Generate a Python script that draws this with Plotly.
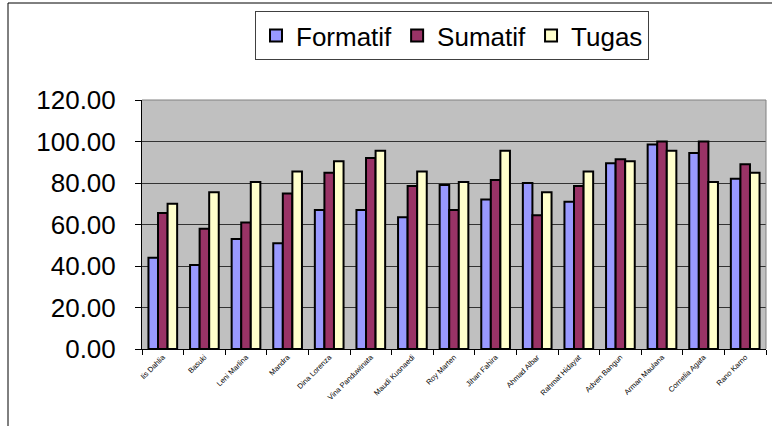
import plotly.graph_objects as go

names = ["Iis Dahlia", "Basuki", "Leni Marlina", "Mandra", "Dina Lorenza",
         "Vina Panduwinata", "Maudi Kusnaedi", "Roy Marten", "Jihan Fahira",
         "Ahmad Albar", "Rahmat Hidayat", "Adven Bangun", "Arman Maulana",
         "Cornelia Agata", "Rano Karno"]
formatif = [44, 40.5, 53, 51, 67, 67, 63.5, 79, 72, 80, 71, 89.5, 98.5, 94.5, 82]
sumatif = [65.5, 58, 61, 75, 85, 92, 78.5, 67, 81.5, 64.5, 78.5, 91.5, 100, 100, 89]
tugas = [70, 75.5, 80.5, 85.5, 90.5, 95.5, 85.5, 80.5, 95.5, 75.5, 85.5, 90.5, 95.5, 80.5, 85]
y_ticks = [0, 20, 40, 60, 80, 100, 120]

series = [("Formatif", formatif, "#9999FF"),
          ("Sumatif", sumatif, "#993366"),
          ("Tugas", tugas, "#FFFFCC")]

fig = go.Figure()
for nm, vals, col in series:
    fig.add_trace(go.Bar(x=names, y=vals, name=nm,
                         marker=dict(color=col, line=dict(color="black", width=2))))

W, H = 772, 426
L, R, T, B = 142, 6, 100, 77
pw, ph = W - L - R, H - T - B

def px2x(px):
    return (px - L) / pw

def py2y(py):
    return (H - B - py) / ph

fig.update_layout(
    width=W, height=H,
    margin=dict(l=L, r=R, t=T, b=B, autoexpand=False),
    paper_bgcolor="white",
    plot_bgcolor="#C0C0C0",
    font=dict(family="Liberation Sans, Arial", color="black"),
    barmode="group", bargap=0.31, bargroupgap=0,
    showlegend=True,
    legend=dict(orientation="h", xref="container", yref="container",
                x=452 / W, y=1 - 11 / H, xanchor="center", yanchor="top",
                bgcolor="white", bordercolor="#404040", borderwidth=1,
                font=dict(size=26), itemwidth=30, traceorder="normal"),
    xaxis=dict(tickangle=-45, tickfont=dict(size=7.5, color="black"), showline=True,
               linecolor="black", linewidth=1, ticks="outside", tickson="boundaries",
               ticklen=5, tickcolor="black", showgrid=False, automargin=False),
    yaxis=dict(range=[0, 120], tickvals=y_ticks, tickformat=".2f", tickfont=dict(size=26),
               showline=True, linecolor="black", linewidth=1, ticks="outside", ticklen=6,
               tickcolor="black", showgrid=True, gridcolor="#333333", gridwidth=1,
               ticklabelstandoff=14, zeroline=False, automargin=False),
    shapes=[
        dict(type="line", xref="paper", yref="paper", x0=1, x1=1, y0=0, y1=1,
             line=dict(color="#808080", width=1)),
        dict(type="line", xref="paper", yref="paper", x0=0, x1=1, y0=1, y1=1,
             line=dict(color="#808080", width=1)),
        dict(type="line", xref="paper", yref="paper", x0=px2x(8), x1=px2x(8),
             y0=py2y(3), y1=py2y(430), line=dict(color="black", width=1)),
        dict(type="line", xref="paper", yref="paper", x0=px2x(8), x1=px2x(775),
             y0=py2y(3), y1=py2y(3), line=dict(color="black", width=1)),
    ],
)

fig.write_html("out.html", config={"displayModeBar": False},
               post_script="document.body.style.margin='0';")
